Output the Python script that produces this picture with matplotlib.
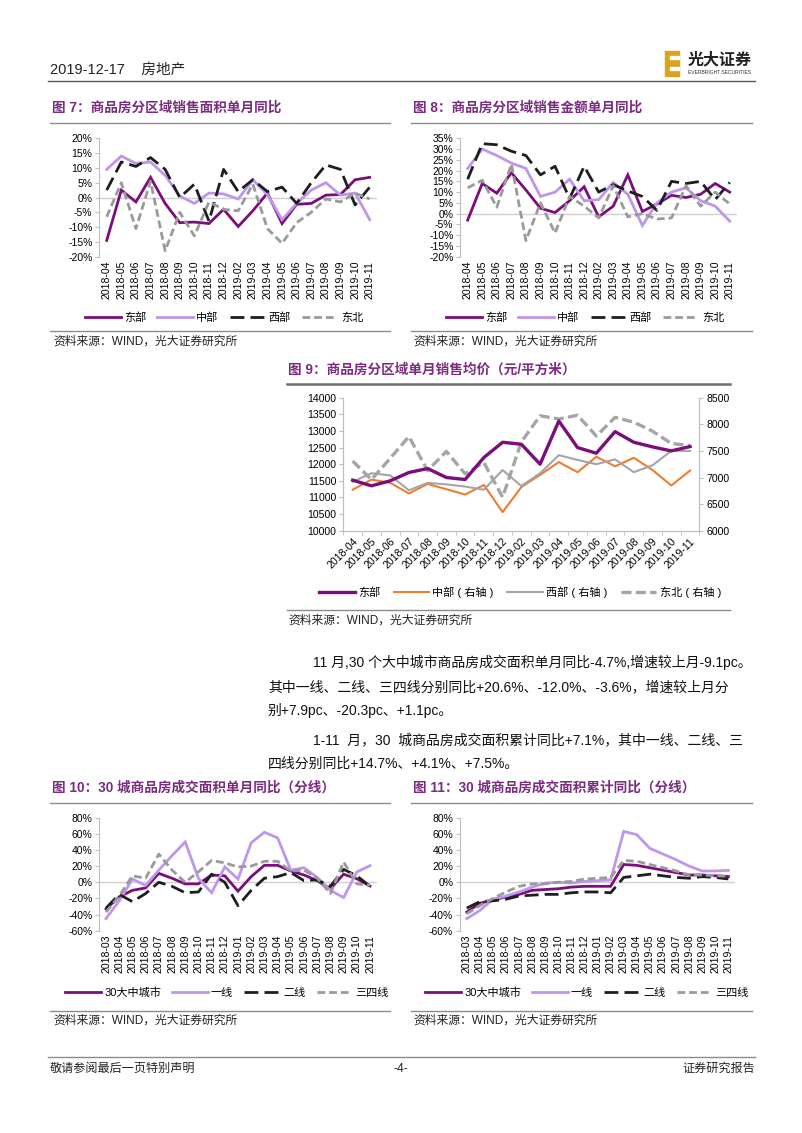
import matplotlib
matplotlib.use("Agg")
import matplotlib.pyplot as plt
from matplotlib.lines import Line2D
from matplotlib.patches import Rectangle
import numpy as np

plt.rcParams['font.family'] = ['Liberation Sans', 'Noto Sans CJK SC', 'DejaVu Sans']
plt.rcParams['axes.unicode_minus'] = False

# ---------------- data ----------------
months_a = ['2018-04', '2018-05', '2018-06', '2018-07', '2018-08', '2018-09', '2018-10',
            '2018-11', '2018-12', '2019-02', '2019-03', '2019-04', '2019-05', '2019-06',
            '2019-07', '2019-08', '2019-09', '2019-10', '2019-11']
months_b = ['2018-03', '2018-04', '2018-05', '2018-06', '2018-07', '2018-08', '2018-09',
            '2018-10', '2018-11', '2018-12', '2019-01', '2019-02', '2019-03', '2019-04',
            '2019-05', '2019-06', '2019-07', '2019-08', '2019-09', '2019-10', '2019-11']

region_names = ['东部', '中部', '西部', '东北']

# fig 7: area yoy (%)
area_east = [-14.5, 2.5, -1.5, 6.8, -2, -8.5, -8.3, -8.8, -4, -9.8, -4.5, 1.5, -8.8, -2.3, -2, 0.8, 1, 6, 6.8]
area_central = [9.5, 14, 11.5, 12, 7.5, 0.5, -2, 1.5, 1.2, -0.5, 6, 1, -7.5, -2, 2.5, 5, 0.8, 1.5, -7.5]
area_west = [2.5, 12, 10.5, 13.5, 9.5, 0, 4.5, -8, 9.5, 2, 6, 2, 3.5, -2, 5, 11, 9.5, -2.5, 3.5]
area_ne = [-6.5, 5, -10.5, 5.5, -18, -5, -13, -1.5, -4, -4.5, 4.5, -10.5, -15.5, -8.5, -5, -0.5, -1.5, 1.5, -0.5]

# fig 8: amount yoy (%)
amt_east = [-3, 14, 9.5, 19, 11, 2.5, 0.5, 6, 12.5, -1.5, 3.5, 18, 1, 4.5, 8.5, 7.5, 9, 14, 10]
amt_central = [21, 30, 27, 23.5, 21, 8, 10, 16, 6, 6.5, 14.5, 9, -5.5, 5, 10, 12, 6, 3.5, -3.5]
amt_west = [16, 32.5, 32, 29, 27, 18, 22, 7, 22, 10, 13.5, 10.5, 8, 1.5, 15, 14, 15, 6.5, 14.5]
amt_ne = [12, 15.5, 3, 23, -12.5, 5, -9, 8, 3.5, -2, 13, -1.5, 0, -2.5, -2, 13, 3.5, 10, 4.5]

# fig 9: average price (yuan / sqm)
price_east = [11520, 11350, 11500, 11750, 11870, 11600, 11540, 12200, 12660, 12600,
              12000, 13300, 12500, 12330, 12980, 12660, 12520, 12400, 12530]
price_central = [6770, 6960, 6900, 6700, 6880, 6780, 6680, 6860, 6350, 6820,
                 7050, 7290, 7100, 7390, 7210, 7370, 7140, 6850, 7130]
price_west = [6920, 7080, 7040, 6760, 6900, 6870, 6830, 6770, 7140, 6840,
              7080, 7420, 7330, 7250, 7340, 7100, 7230, 7500, 7500]
price_ne = [7310, 6960, 7360, 7770, 7130, 7490, 7070, 7280, 6630, 7670,
            8160, 8100, 8170, 7780, 8130, 8040, 7870, 7640, 7600]
price_names = ['东部', '中部 ( 右轴 )', '西部 ( 右轴 )', '东北 ( 右轴 )']

tier_names = ['30大中城市', '一线', '二线', '三四线']

# fig 10: 30 cities monthly yoy (%)
m_all = [-33, -18, -10, -7, 11, 5, -2, -2, 9, 8, -11, 7, 21, 21, 14, 9, 2, -8, 10, 4.4, -4.7]
m_t1 = [-45, -23, 4, -4, 15, 33, 50, 5, -13, 19, 4, 49, 62, 55, 15, 18, 6, -10, -19, 12.7, 20.6]
m_t2 = [-32, -15, -24, -14, 0, -5, -13, -12, 10, 0, -29, -10, 5, 7, 12, 2, 3, -5, 16, 8, -5]
m_t34 = [-37, -17, 8, 5, 35, 15, 0, 13, 27, 24, 19, 20, 26, 26, 14, 15, 5, -14, 25, -2, -3.6]

# fig 11: 30 cities cumulative yoy (%)
c_all = [-37, -26, -22, -18, -15, -10, -9, -8, -6, -5, -5, -5, 22, 21, 18, 15, 12, 9, 9, 8, 7.1]
c_t1 = [-45, -35, -21, -17, -12, -6, -1, 0, -1, 1, 2, 3, 63, 59, 42, 35, 28, 20, 14, 14, 14.7]
c_t2 = [-32, -24, -23, -21, -17, -16, -15, -15, -13, -12, -12, -13, 6, 8, 10, 8, 6, 5, 7, 6, 4.1]
c_t34 = [-39, -29, -20, -12, -5, -2, -2, 0, 1, 4, 5, 6, 27, 26, 22, 18, 14, 9, 9, 8, 7.5]

para_lines = [
    (313, 662, '11 月,30 个大中城市商品房成交面积单月同比-4.7%,增速较上月-9.1pc。'),
    (268, 687, '其中一线、二线、三四线分别同比+20.6%、-12.0%、-3.6%，增速较上月分'),
    (268, 711, '别+7.9pc、-20.3pc、+1.1pc。'),
    (313, 740, '1-11  月，30  城商品房成交面积累计同比+7.1%，其中一线、二线、三'),
    (268, 764, '四线分别同比+14.7%、+4.1%、+7.5%。'),
]

# ---------------- helpers ----------------
W, H = 802, 1133
fig = plt.figure(figsize=(W / 100, H / 100), dpi=100)

TITLE_C = '#7B2B80'
GRID_C = '#D0D0D0'


def ax_at(x0, y0, x1, y1):
    return fig.add_axes([x0 / W, 1 - y1 / H, (x1 - x0) / W, (y1 - y0) / H])


def ftext(x, y, s, **kw):
    kw.setdefault('va', 'center')
    fig.text(x / W, 1 - y / H, s, **kw)


def hline(x0, x1, y, color='#7F7F7F', lw=1.0):
    fig.add_artist(Line2D([x0 / W, x1 / W], [1 - y / H, 1 - y / H], color=color, lw=lw))


def add_legend(handles, names, cx, cy, spacing=1.0):
    fig.legend(handles, names, loc='center', ncol=4, frameon=False,
               bbox_to_anchor=(cx / W, 1 - cy / H),
               fontsize=8, handlelength=3.2, columnspacing=spacing, handletextpad=0.3)


STYLE_REGION = [
    dict(color='#7A0E7A', lw=2.0),
    dict(color='#BE96EC', lw=2.0),
    dict(color='#1E1E1E', lw=2.0, dashes=(5, 2.2)),
    dict(color='#9A9A9A', lw=2.0, dashes=(2.8, 1.4)),
]


def small_chart(box, cats, series, names, ylim, ystep, legend_xy):
    ax = ax_at(*box)
    x = np.arange(len(cats))
    handles = []
    for vals, st in zip(series, STYLE_REGION):
        h, = ax.plot(x, vals, solid_joinstyle='miter', **st)
        handles.append(h)
    ax.set_xlim(-0.5, len(cats) - 0.5)
    ax.set_ylim(*ylim)
    ax.axhline(0, color=GRID_C, lw=1, zorder=0)
    for s in ['top', 'right', 'bottom']:
        ax.spines[s].set_visible(False)
    ax.spines['left'].set_color('#BFBFBF')
    ticks = np.arange(ylim[0], ylim[1] + 0.1, ystep)
    ax.set_yticks(ticks)
    ax.set_yticklabels([f'{int(t)}%' for t in ticks], fontsize=7.5)
    ax.set_xticks(x)
    ax.set_xticklabels(cats, rotation=90, fontsize=7.6)
    ax.tick_params(axis='x', length=0, pad=3)
    ax.tick_params(axis='y', length=3, color='#BFBFBF', pad=2)
    add_legend(handles, names, *legend_xy)
    return ax


# ---------------- header ----------------
ftext(50, 70, '2019-12-17    房地产', fontsize=10.5, color='#222222')
hline(48, 755, 81, color='#555555', lw=1.0)
fig.add_artist(Rectangle((665 / W, 1 - 76 / H), 14 / W, 25 / H, color='#D9A51E'))
fig.add_artist(Rectangle((670 / W, 1 - 70 / H), 9 / W, 3 / H, color='white'))
fig.add_artist(Rectangle((670 / W, 1 - 59 / H), 9 / W, 3 / H, color='white'))
ftext(688, 60, '光大证券', fontsize=11.5, fontweight='bold', color='#222222')
ftext(688, 73, 'EVERBRIGHT SECURITIES', fontsize=3.6, color='#333333')

# ---------------- fig 7 / fig 8 ----------------
ftext(52, 108, '图 7：商品房分区域销售面积单月同比', fontsize=9.8, fontweight='bold', color=TITLE_C)
hline(50, 390, 122.5, color='#8C8C8C', lw=1.0)
small_chart((99.4, 138.3, 377, 256.7), months_a,
            [area_east, area_central, area_west, area_ne], region_names,
            (-20, 20), 5, (224, 318))
hline(50, 390, 331, color='#8C8C8C', lw=1.0)
ftext(53, 342, '资料来源：WIND，光大证券研究所', fontsize=8.5, color='#222222')

ftext(413, 108, '图 8：商品房分区域销售金额单月同比', fontsize=9.8, fontweight='bold', color=TITLE_C)
hline(411, 752, 122.5, color='#8C8C8C', lw=1.0)
small_chart((460.4, 138.3, 737, 256.7), months_a,
            [amt_east, amt_central, amt_west, amt_ne], region_names,
            (-20, 35), 5, (585, 318))
hline(411, 752, 331, color='#8C8C8C', lw=1.0)
ftext(413, 342, '资料来源：WIND，光大证券研究所', fontsize=8.5, color='#222222')

# ---------------- fig 9 ----------------
ftext(288, 370, '图 9：商品房分区域单月销售均价（元/平方米）', fontsize=9.8, fontweight='bold', color=TITLE_C)
hline(287, 730, 383.5, color='#6E6E6E', lw=1.8)

ax9 = ax_at(343.3, 397.7, 699.4, 530.7)
ax9r = ax9.twinx()
x9 = np.arange(len(months_a))
h_e, = ax9.plot(x9, price_east, color='#7A0E7A', lw=2.4, zorder=5)
h_c, = ax9r.plot(x9, price_central, color='#ED7D31', lw=1.5)
h_w, = ax9r.plot(x9, price_west, color='#A5A5A5', lw=1.5)
h_n, = ax9r.plot(x9, price_ne, color='#A5A5A5', lw=2.4, dashes=(3, 1.3))
ax9.set_zorder(ax9r.get_zorder() + 1)
ax9.patch.set_visible(False)
ax9.set_xlim(-0.5, len(months_a) - 0.5)
ax9.set_ylim(10000, 14000)
ax9r.set_ylim(6000, 8500)
ax9.set_yticks(np.arange(10000, 14001, 500))
ax9r.set_yticks(np.arange(6000, 8501, 500))
ax9.set_xticks(x9)
ax9.set_xticklabels(months_a, rotation=45, ha='right', rotation_mode='anchor', fontsize=7.6)
ax9.set_xticks(np.arange(-0.5, len(months_a), 1), minor=True)
ax9.tick_params(axis='x', which='major', length=0, pad=4)
ax9.tick_params(axis='x', which='minor', length=3, color='#BFBFBF')
ax9.tick_params(axis='y', labelsize=7.6, length=3, color='#BFBFBF', pad=2)
ax9r.tick_params(axis='y', labelsize=7.6, length=3, color='#BFBFBF', pad=2)
for a in (ax9, ax9r):
    a.spines['top'].set_visible(False)
    for s in ('left', 'right', 'bottom'):
        a.spines[s].set_color('#BFBFBF')
add_legend([h_e, h_c, h_w, h_n], price_names, 520, 592, spacing=1.2)
hline(287, 730, 610, color='#8C8C8C', lw=1.0)
ftext(288, 621, '资料来源：WIND，光大证券研究所', fontsize=8.5, color='#222222')

# ---------------- paragraph ----------------
for px, py, s in para_lines:
    ftext(px, py, s, fontsize=10, color='#111111')

# ---------------- fig 10 / fig 11 ----------------
ftext(52, 788, '图 10：30 城商品房成交面积单月同比（分线）', fontsize=9.8, fontweight='bold', color=TITLE_C)
hline(50, 390, 802.7, color='#8C8C8C', lw=1.0)
small_chart((99.4, 817.7, 376.6, 930.7), months_b,
            [m_all, m_t1, m_t2, m_t34], tier_names,
            (-60, 80), 20, (227, 993))
hline(50, 390, 1010.7, color='#8C8C8C', lw=1.0)
ftext(53, 1021, '资料来源：WIND，光大证券研究所', fontsize=8.5, color='#222222')

ftext(413, 788, '图 11：30 城商品房成交面积累计同比（分线）', fontsize=9.8, fontweight='bold', color=TITLE_C)
hline(411, 752, 802.7, color='#8C8C8C', lw=1.0)
small_chart((460.2, 817.7, 734.9, 930.7), months_b,
            [c_all, c_t1, c_t2, c_t34], tier_names,
            (-60, 80), 20, (587, 993))
hline(411, 752, 1010.7, color='#8C8C8C', lw=1.0)
ftext(413, 1021, '资料来源：WIND，光大证券研究所', fontsize=8.5, color='#222222')

# ---------------- footer ----------------
hline(48, 755, 1057, color='#8C8C8C', lw=1.0)
ftext(50, 1069, '敬请参阅最后一页特别声明', fontsize=8.7, color='#222222')
ftext(401, 1069, '-4-', fontsize=8.7, color='#222222', ha='center')
ftext(755, 1069, '证券研究报告', fontsize=8.7, color='#222222', ha='right')

fig.savefig('out.png', dpi=100)
